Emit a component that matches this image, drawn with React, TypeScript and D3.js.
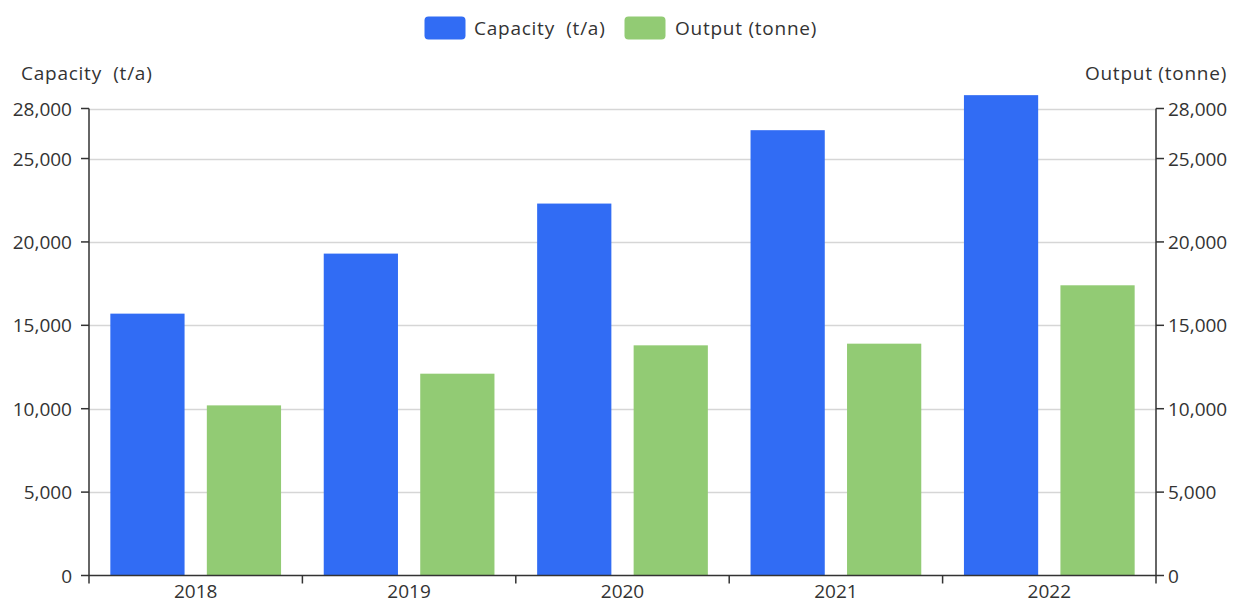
import React from "react";
import * as d3 from "d3";

const years = ["2018", "2019", "2020", "2021", "2022"];
const capacity = [15700, 19300, 22300, 26700, 28800];
const output = [10200, 12100, 13800, 13900, 17400];
const yTicks = [0, 5000, 10000, 15000, 20000, 25000, 28000];
const seriesNames = ["Capacity  (t/a)", "Output (tonne)"];
const colors = ["#316cf4", "#92cb74"];

const W = 1235;
const H = 605;
const FONT = "'Open Sans', sans-serif";
const FS = 19;
const LS = 0.75;

export default function App() {
  const left = 89, right = 1156, top = 108.5, bottom = 575.5;
  const x = d3.scaleBand<string>().domain(years).range([left, right]).paddingInner(0).paddingOuter(0);
  const y = d3.scaleLinear().domain([0, 28000]).range([bottom, top]);
  const bw = x.bandwidth();
  const barW = bw * 0.8 / 2.3;
  const gap = barW * 0.3;
  const fmt = d3.format(",");
  const series = [capacity, output];
  const pre = { whiteSpace: "pre" as const };

  return (
    <div style={{ position: "absolute", left: 0, top: 0 }}>
      <svg width={W} height={H} style={{ display: "block" }} fontFamily={FONT}>
        <rect width={W} height={H} fill="#fff" />
        {/* legend */}
        <g>
          <rect x={424.5} y={16.5} width={41} height={23} rx={4} fill={colors[0]} />
          <text x={474} y={28} dominantBaseline="central" fontSize={FS} fill="#333" letterSpacing={LS} style={pre}>{seriesNames[0]}</text>
          <rect x={624.5} y={16.5} width={41} height={23} rx={4} fill={colors[1]} />
          <text x={675} y={28} dominantBaseline="central" fontSize={FS} fill="#333" letterSpacing={LS} style={pre}>{seriesNames[1]}</text>
        </g>
        {/* axis names */}
        <text x={21} y={73} dominantBaseline="central" fontSize={FS} fill="#333" letterSpacing={LS} style={pre}>{seriesNames[0]}</text>
        <text x={1227} y={73} dominantBaseline="central" textAnchor="end" fontSize={FS} fill="#333" letterSpacing={LS} style={pre}>{seriesNames[1]}</text>
        {/* grid */}
        {yTicks.filter(t => t > 0).map(t => (
          <line key={t} x1={left} x2={right} y1={Math.round(y(t)) + 0.5} y2={Math.round(y(t)) + 0.5} stroke="#d6d6d6" strokeWidth={1.5} />
        ))}
        {/* bars */}
        {series.map((vals, si) =>
          vals.map((v, i) => {
            const bx = (x(years[i]) as number) + bw * 0.1 + si * (barW + gap);
            return (
              <rect key={`${si}-${i}`} x={bx} y={y(v)} width={barW} height={bottom - y(v)} fill={colors[si]} />
            );
          })
        )}
        {/* left axis */}
        <line x1={left} x2={left} y1={top} y2={bottom} stroke="#333" strokeWidth={1.5} />
        {yTicks.map(t => (
          <g key={`l${t}`}>
            <line x1={left - 8} x2={left} y1={y(t)} y2={y(t)} stroke="#333" strokeWidth={1.5} />
            <text x={72} y={y(t)} textAnchor="end" dominantBaseline="central" fontSize={FS} fill="#333">{fmt(t)}</text>
          </g>
        ))}
        {/* right axis */}
        <line x1={right} x2={right} y1={top} y2={bottom} stroke="#333" strokeWidth={1.5} />
        {yTicks.map(t => (
          <g key={`r${t}`}>
            <line x1={right} x2={right + 8} y1={y(t)} y2={y(t)} stroke="#333" strokeWidth={1.5} />
            <text x={1168} y={y(t)} dominantBaseline="central" fontSize={FS} fill="#333">{fmt(t)}</text>
          </g>
        ))}
        {/* bottom axis */}
        <line x1={left} x2={right} y1={bottom} y2={bottom} stroke="#333" strokeWidth={1.5} />
        {[...years.map(yr => x(yr) as number), right].map((tx, i) => (
          <line key={`bt${i}`} x1={tx} x2={tx} y1={bottom} y2={bottom + 8} stroke="#333" strokeWidth={1.5} />
        ))}
        {years.map(yr => (
          <text key={yr} x={(x(yr) as number) + bw / 2} y={591} textAnchor="middle" dominantBaseline="central" fontSize={FS} fill="#333">{yr}</text>
        ))}
      </svg>
    </div>
  );
}
